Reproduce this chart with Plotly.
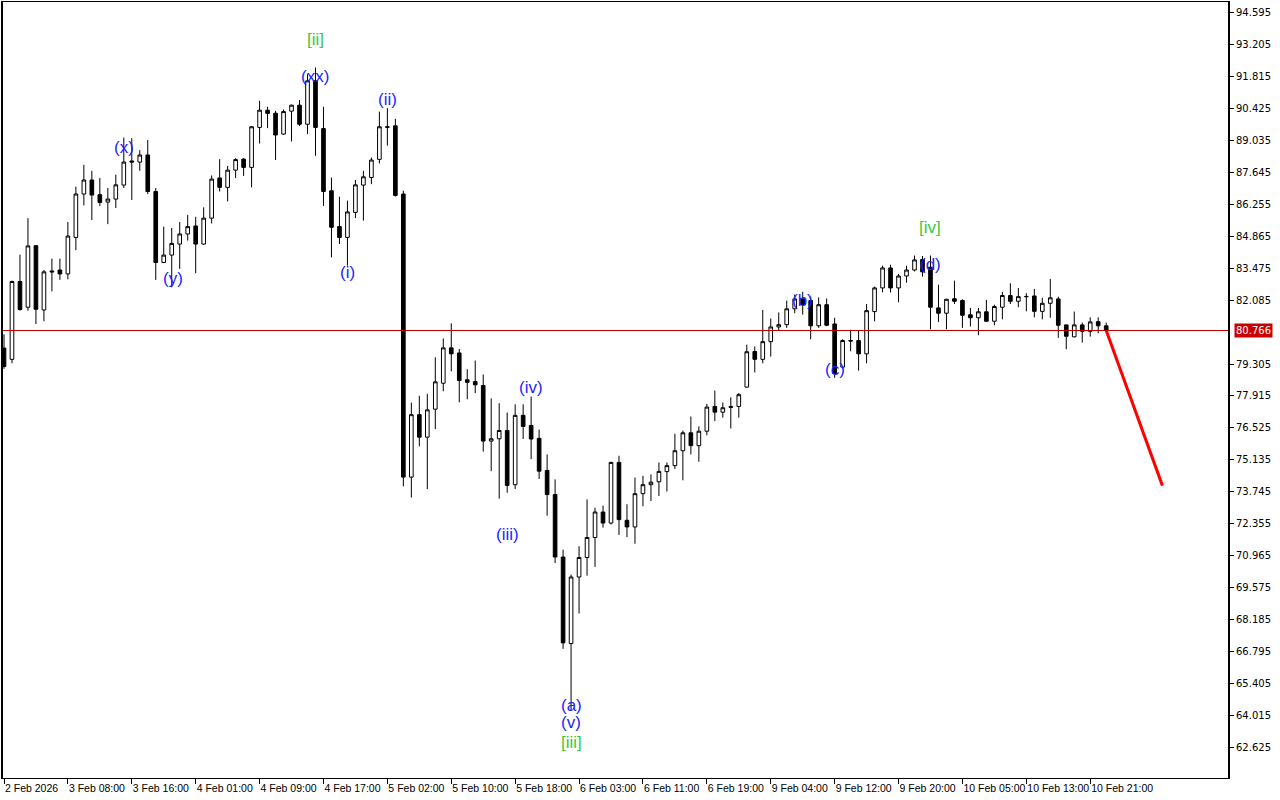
import plotly.graph_objects as go

# ---- data (hourly candles, index 0 = first bar on screen) ----
opens = [80.0, 79.51, 82.90, 81.78, 84.46, 81.66, 83.36, 83.40, 83.23, 84.82,
         86.71, 87.32, 86.68, 86.36, 86.49, 87.10, 88.15, 88.10, 88.41, 86.82,
         83.73, 84.05, 84.53, 84.97, 85.32, 84.53, 85.66, 87.41, 87.00, 87.75,
         88.23, 87.87, 89.61, 90.36, 90.23, 89.32, 90.32, 90.58, 89.75, 91.64,
         89.56, 86.85, 85.29, 84.82, 85.91, 87.10, 87.43, 88.22, 89.64, 89.68,
         86.71, 74.38, 77.10, 76.12, 77.34, 78.47, 80.01, 79.79, 78.62, 78.54,
         78.37, 75.95, 76.05, 76.41, 74.05, 77.07, 76.63, 76.07, 74.67, 73.62,
         70.90, 67.13, 70.03, 70.88, 71.75, 72.86, 72.38, 75.02, 72.50, 72.21,
         73.66, 74.05, 74.18, 74.62, 74.88, 75.53, 76.31, 75.75, 76.38, 77.46,
         77.21, 77.46, 77.46, 78.30, 79.85, 79.51, 80.28, 80.92, 81.02, 81.71,
         82.14, 82.07, 80.97, 81.89, 81.05, 79.17, 80.33, 80.33, 79.75, 81.59,
         82.62, 83.49, 82.62, 83.14, 83.40, 83.86, 83.52, 81.75, 81.52, 82.15,
         82.07, 81.45, 81.32, 81.58, 81.17, 81.78, 82.29, 82.04, 82.25, 82.27,
         81.60, 81.95, 82.14, 81.01, 80.49, 81.01, 80.73, 81.15, 80.97]
highs = [80.6, 82.94, 84.07, 85.66, 84.49, 83.40, 83.895, 83.895, 85.49, 87.03,
         87.98, 87.72, 87.41, 86.97, 87.55, 89.17, 89.14, 88.62, 89.06, 86.97,
         85.29, 85.23, 85.49, 85.80, 85.72, 86.13, 87.52, 88.23, 87.93, 88.27,
         88.27, 89.67, 90.77, 90.51, 90.33, 90.39, 90.60, 90.80, 91.93, 92.22,
         90.51, 87.43, 86.59, 86.42, 87.32, 87.72, 88.30, 90.30, 90.45, 89.985,
         86.85, 77.63, 77.92, 78.01, 79.60, 80.42, 81.08, 79.96, 79.08, 79.46,
         78.85, 77.81, 77.60, 77.195, 77.55, 77.55, 77.89, 76.45, 75.37, 74.28,
         71.22, 70.14, 71.37, 73.41, 73.05, 73.14, 75.05, 75.31, 73.20, 74.36,
         74.44, 74.50, 75.02, 75.02, 76.27, 76.41, 77.02, 76.59, 77.57, 78.15,
         77.63, 77.86, 78.04, 80.15, 80.07, 81.66, 81.29, 81.55, 82.07, 82.33,
         82.45, 82.24, 82.21, 82.16, 81.32, 80.385, 80.80, 80.76, 81.92, 82.68,
         83.59, 83.63, 83.23, 83.59, 84.03, 84.01, 84.03, 82.76, 82.15, 82.94,
         82.125, 81.75, 81.75, 82.10, 81.89, 82.45, 82.82, 82.62, 82.39, 82.58,
         82.19, 83.01, 82.24, 81.03, 81.59, 81.11, 81.34, 81.34, 81.11]
lows = [79.1, 79.34, 81.63, 81.63, 81.05, 81.17, 82.47, 82.97, 82.995, 84.27,
        86.21, 85.58, 86.19, 85.40, 86.10, 86.97, 86.45, 87.72, 86.71, 82.97,
        83.70, 82.65, 83.45, 84.68, 83.26, 84.50, 85.43, 86.82, 86.39, 87.405,
        87.50, 87.00, 88.91, 89.58, 88.19, 89.29, 88.998, 89.67, 89.32, 88.375,
        86.19, 83.95, 84.53, 83.59, 85.665, 85.55, 87.14, 88.04, 88.82, 86.60,
        73.98, 73.49, 75.72, 73.86, 76.47, 78.12, 78.99, 77.64, 77.77, 78.04,
        75.49, 74.64, 73.44, 73.70, 73.86, 76.04, 75.165, 74.30, 72.70, 70.64,
        66.90, 64.20, 68.44, 70.09, 70.47, 72.18, 72.32, 71.86, 71.77, 71.48,
        73.11, 73.34, 73.56, 73.75, 74.73, 74.24, 75.37, 75.05, 76.20, 76.82,
        76.97, 76.50, 76.97, 78.28, 78.94, 79.34, 79.63, 80.76, 80.88, 81.52,
        81.46, 80.385, 80.88, 80.95, 78.71, 79.10, 79.86, 79.02, 79.34, 81.17,
        82.43, 82.42, 81.995, 82.85, 83.34, 83.11, 80.82, 81.14, 80.82, 81.92,
        80.88, 80.94, 80.56, 81.14, 80.995, 81.25, 81.92, 81.78, 81.60, 81.34,
        81.25, 81.32, 80.445, 79.95, 80.47, 80.24, 80.50, 80.645, 80.76]
closes = [79.2, 82.90, 81.68, 84.45, 81.69, 83.32, 83.32, 83.23, 84.88, 86.71,
          87.32, 86.665, 86.34, 86.49, 87.11, 88.10, 88.10, 88.41, 86.82, 83.73,
          84.05, 84.56, 84.97, 85.29, 84.53, 85.66, 87.36, 87.00, 87.75, 88.21,
          87.87, 89.64, 90.36, 90.22, 89.28, 90.30, 90.58, 89.75, 91.64, 89.61,
          86.82, 85.26, 84.82, 85.93, 87.11, 87.46, 88.19, 89.64, 89.62, 86.65,
          74.38, 77.10, 76.12, 77.31, 78.53, 80.01, 79.75, 78.59, 78.51, 78.40,
          75.95, 76.05, 76.41, 74.02, 77.07, 76.59, 76.04, 74.64, 73.62, 70.90,
          67.16, 70.03, 70.88, 71.75, 72.86, 72.38, 75.02, 72.53, 72.21, 73.66,
          74.05, 74.16, 74.63, 74.88, 75.53, 76.31, 75.75, 76.38, 77.43, 77.21,
          77.40, 77.42, 77.97, 79.84, 79.51, 80.28, 80.92, 81.02, 81.71, 82.14,
          81.90, 80.97, 81.89, 80.995, 78.88, 80.33, 80.31, 79.75, 81.63, 82.62,
          83.49, 82.62, 83.14, 83.40, 83.84, 83.32, 81.78, 81.52, 82.125, 82.04,
          81.43, 81.32, 81.58, 81.17, 81.81, 82.29, 82.04, 82.24, 82.24, 81.60,
          81.95, 82.19, 80.995, 80.515, 81.01, 80.73, 81.14, 80.97, 80.766]

current_price = 80.766
forecast_x = [138, 145.04]
forecast_y = [80.766, 74.01]

x_tick_idx = [0, 8, 16, 24, 32, 40, 48, 56, 64, 72, 80, 88, 96, 104, 112, 120, 128, 136]
x_tick_text = ["2 Feb 2026", "3 Feb 08:00", "3 Feb 16:00", "4 Feb 01:00", "4 Feb 09:00",
               "4 Feb 17:00", "5 Feb 02:00", "5 Feb 10:00", "5 Feb 18:00", "6 Feb 03:00",
               "6 Feb 11:00", "6 Feb 19:00", "9 Feb 04:00", "9 Feb 12:00", "9 Feb 20:00",
               "10 Feb 05:00", "10 Feb 13:00", "10 Feb 21:00"]
y_tick_vals = [94.595, 93.205, 91.815, 90.425, 89.035, 87.645, 86.255, 84.865, 83.475,
               82.085, 79.305, 77.915, 76.525, 75.135, 73.745, 72.355, 70.965, 69.575,
               68.185, 66.795, 65.405, 64.015, 62.625]

wave_text = ["(x)", "(y)", "[ii]", "(xx)", "(ii)", "(i)", "(iv)", "(iii)", "(a)", "(v)",
             "[iii]", "(b)", "(c)", "[iv]", "(d)"]
wave_x = [15, 21.1, 39, 38.9, 48, 43, 66, 63, 71, 71, 71, 100, 104, 116, 116]
wave_y = [88.72, 83.03, 93.42, 91.81, 90.81, 83.29, 78.28, 71.89, 64.45, 63.71,
          62.84, 82.07, 79.07, 85.24, 83.63]
wave_color = ["blue", "blue", "green", "blue", "blue", "blue", "blue", "blue", "blue", "blue",
              "green", "blue", "blue", "green", "blue"]

BLUE = "#1e1eff"
GREEN = "#3cc83c"

idx = list(range(len(opens)))

fig = go.Figure()
fig.add_trace(go.Candlestick(
    x=idx, open=opens, high=highs, low=lows, close=closes,
    increasing=dict(line=dict(color="black", width=1), fillcolor="white"),
    decreasing=dict(line=dict(color="black", width=1), fillcolor="black"),
    whiskerwidth=0, showlegend=False, hoverinfo="skip"))

fig.add_trace(go.Scatter(x=forecast_x, y=forecast_y, mode="lines",
                         line=dict(color="#ff0000", width=3), showlegend=False,
                         hoverinfo="skip"))

fig.add_shape(type="line", xref="paper", x0=0, x1=1, yref="y",
              y0=current_price, y1=current_price,
              line=dict(color="#c00000", width=1))

for t, xx, yy, c in zip(wave_text, wave_x, wave_y, wave_color):
    fig.add_annotation(x=xx, y=yy, text=t, showarrow=False, xanchor="center",
                       yanchor="middle",
                       font=dict(family="Liberation Sans", size=17,
                                 color=BLUE if c == "blue" else GREEN))

fig.add_annotation(xref="paper", x=1, y=current_price, yref="y", text=f"{current_price:.3f}",
                   showarrow=False, xanchor="left", yanchor="middle", xshift=6,
                   bgcolor="#c80000", borderpad=1,
                   font=dict(family="DejaVu Sans", size=10, color="white"))

fig.update_layout(
    width=1280, height=800,
    margin=dict(l=1, r=52, t=1, b=22),
    paper_bgcolor="white", plot_bgcolor="white",
    boxgap=0.35,
    font=dict(family="DejaVu Sans", size=10, color="black"),
    xaxis=dict(range=[-0.125, 153.25], rangeslider=dict(visible=False),
               tickmode="array", tickvals=x_tick_idx, ticktext=x_tick_text,
               ticks="outside", ticklen=5, tickcolor="black", tickangle=0,
               ticklabelposition="outside right",
               showgrid=False, zeroline=False, showline=True, linecolor="black",
               linewidth=1, mirror=True,
               tickfont=dict(family="Liberation Sans", size=10.5, color="black")),
    yaxis=dict(range=[61.276, 95.073], side="right",
               tickmode="array", tickvals=y_tick_vals,
               ticktext=[f"{v:.3f}" for v in y_tick_vals],
               ticks="outside", ticklen=4, tickcolor="black",
               showgrid=False, zeroline=False, showline=True, linecolor="black",
               linewidth=2, mirror=True,
               tickfont=dict(family="DejaVu Sans", size=10, color="black")),
)

fig.write_html("out.html", config={"displayModeBar": False},
               post_script="document.body.style.margin='0';")
